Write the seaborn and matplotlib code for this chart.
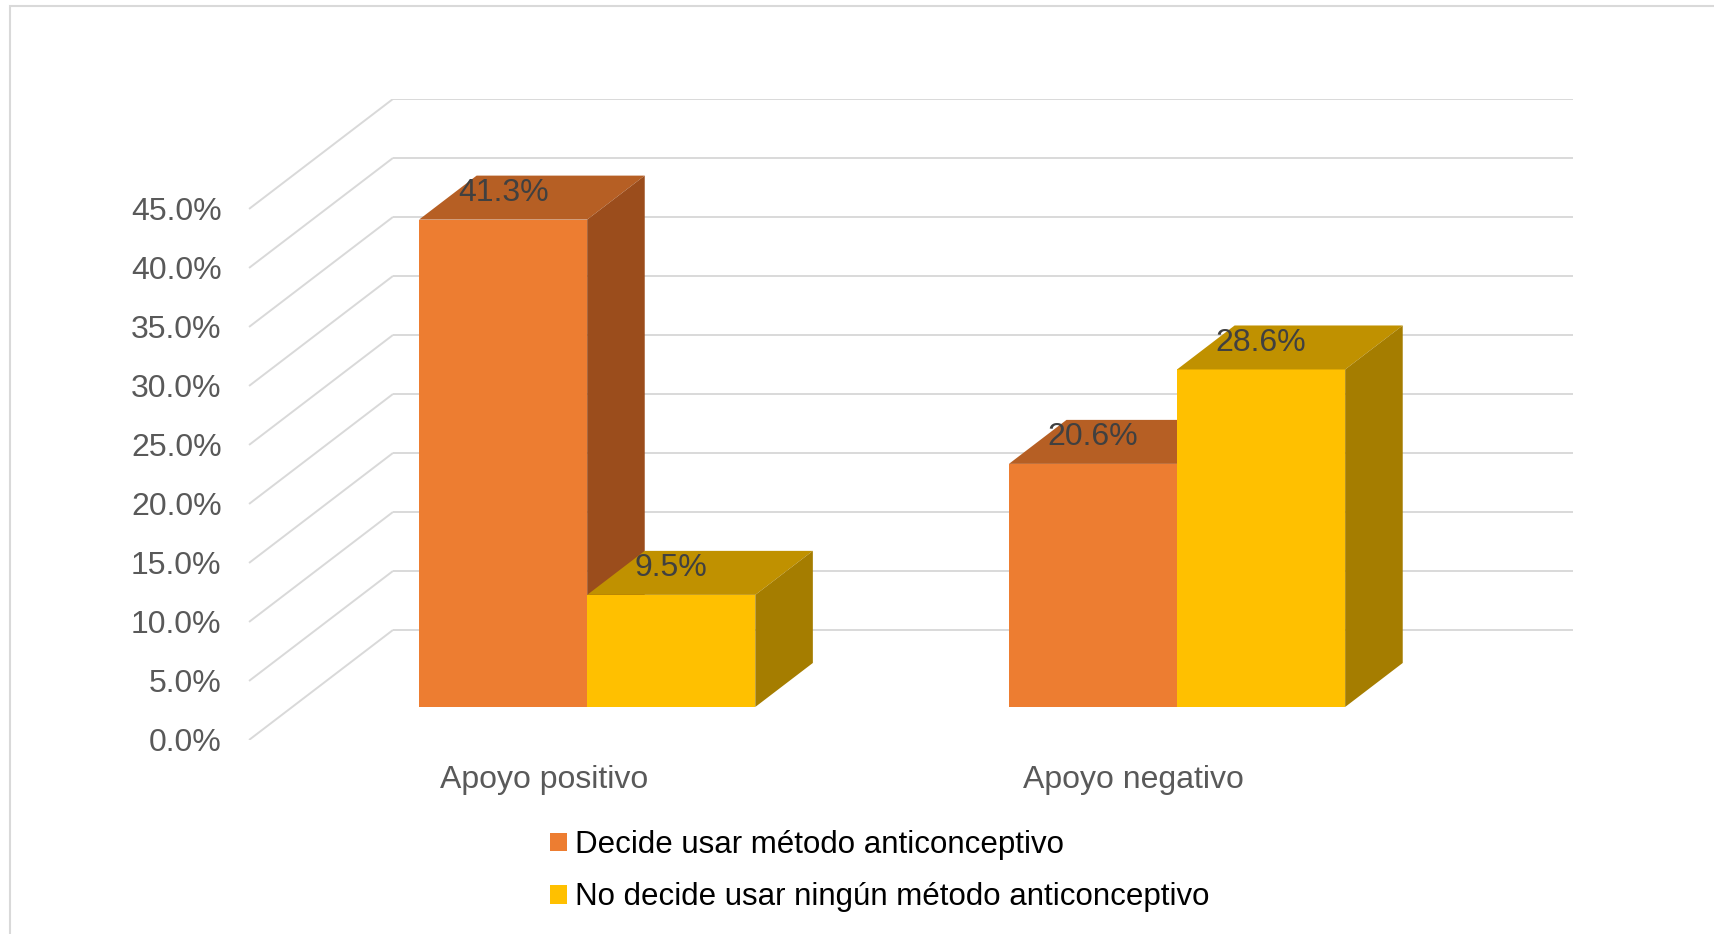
import matplotlib
matplotlib.use("Agg")
import matplotlib.pyplot as plt
from matplotlib.patches import Polygon, Patch, Rectangle
import pandas as pd
import seaborn as sns

# data
categories = ["Apoyo positivo", "Apoyo negativo"]
series = ["Decide usar método anticonceptivo", "No decide usar ningún método anticonceptivo"]
decide = [41.3, 20.6]
no_decide = [9.5, 28.6]
y_ticks = [0, 5, 10, 15, 20, 25, 30, 35, 40, 45]

front_colors = ["#ED7D31", "#FFC000"]
top_colors = ["#B65F24", "#C09100"]
side_colors = ["#9B4D1C", "#A57D00"]

df = pd.DataFrame({
    "categoria": categories * 2,
    "serie": [series[0]] * 2 + [series[1]] * 2,
    "valor": decide + no_decide,
})

sns.set_theme(style="white")
plt.rcParams['font.family'] = ['Liberation Sans', 'DejaVu Sans']

# oblique projection: depth 0 = front of floor, 1 = back wall, bars sit between 0.3 and 0.7
DX, DY = 0.244, 9.32
D_FRONT, D_BACK = 0.3, 0.7


def proj(x, y, d):
    return x + DX * (d - D_FRONT), y + DY * (d - D_FRONT)


fig = plt.figure(figsize=(17.15, 9.34), dpi=100)
ax = fig.add_axes([0.1446, 0.2077, 0.7732, 0.6863])

# side wall and back wall gridlines
x_left, x_right = -0.5, 1.5
grid_kw = dict(color="#D9D9D9", lw=1.4, zorder=0.5, solid_capstyle="butt")
for v in y_ticks:
    xa, ya = proj(x_left, v, 0)
    xb, yb = proj(x_left, v, 1)
    xc, _ = proj(x_right, v, 1)
    ax.plot([xa, xb], [ya, yb], **grid_kw)
    ax.plot([xb, xc], [yb, yb], **grid_kw)

# front faces of the bars
sns.barplot(data=df, x="categoria", y="valor", hue="serie", order=categories,
            hue_order=series, palette=dict(zip(series, front_colors)),
            width=0.57, linewidth=0, saturation=1, legend=False, ax=ax)

# top and side faces, drawn left to right so right bars cover left ones
bars = []
for k, cont in enumerate(ax.containers):
    for rect in cont:
        bars.append((rect.get_x(), k, rect))
bars.sort(key=lambda b: b[0])
for i, (x0, k, rect) in enumerate(bars):
    z = 2 + i
    rect.set_zorder(z)
    w = rect.get_width()
    h = rect.get_height()
    x1 = x0 + w
    top = [proj(x0, h, D_FRONT), proj(x1, h, D_FRONT), proj(x1, h, D_BACK), proj(x0, h, D_BACK)]
    side = [proj(x1, 0, D_FRONT), proj(x1, h, D_FRONT), proj(x1, h, D_BACK), proj(x1, 0, D_BACK)]
    ax.add_patch(Polygon(top, closed=True, facecolor=top_colors[k], lw=0, zorder=z))
    ax.add_patch(Polygon(side, closed=True, facecolor=side_colors[k], lw=0, zorder=z))
    ax.text(x0 + w / 2, h + 2.25, f"{h:.1f}%", ha="center", va="center",
            fontsize=23, color="#404040", zorder=20)

ax.set_xlim(-0.575, 1.673)
ax.set_ylim(-2.80, 51.52)
for s in ax.spines.values():
    s.set_visible(False)
ax.set_yticks([v - DY * D_FRONT for v in y_ticks])
ax.set_yticklabels([f"{v:.1f}%" for v in y_ticks])
ax.set_xticks([c - DX * D_FRONT for c in range(len(categories))])
ax.set_xticklabels(categories)
ax.tick_params(axis="y", length=0, labelsize=23, labelcolor="#595959", pad=19)
ax.tick_params(axis="x", length=0, labelsize=23, labelcolor="#595959", pad=18)
ax.set_xlabel("")
ax.set_ylabel("")

# legend below the plot
handles = [Patch(facecolor=c, lw=0) for c in front_colors]
fig.legend(handles, series, loc="upper left", bbox_to_anchor=(550 / 1715, 1 - 830 / 934),
           frameon=False, prop=dict(size=22.5), labelcolor="#000000",
           handlelength=0.53, handleheight=0.53, handletextpad=0.26, labelspacing=0.72,
           borderpad=0, borderaxespad=0)

# chart area border
fig.add_artist(Rectangle((10 / 1715, -0.1), 2, 1.1 - 6 / 934, transform=fig.transFigure,
                         fill=False, edgecolor="#D9D9D9", lw=1.5))

fig.savefig("out.png", dpi=100)
